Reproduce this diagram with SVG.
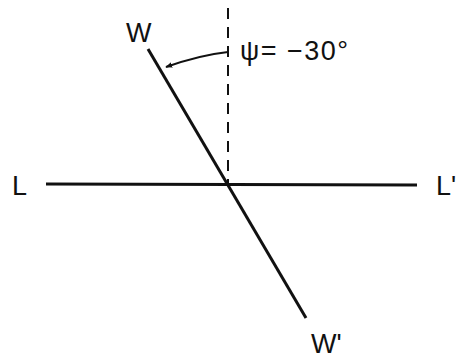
<svg xmlns="http://www.w3.org/2000/svg" width="458" height="360" viewBox="0 0 458 360">
<style>
.ln{stroke:#111;stroke-width:3;fill:none}
.ds{stroke:#111;stroke-width:2;fill:none;stroke-dasharray:11 8}
.lb{font-family:"Liberation Sans",Arial,sans-serif;font-size:27px;fill:#111}
</style>
<defs>
<marker id="ah" viewBox="0 0 10 10" refX="9" refY="5" markerWidth="7" markerHeight="7" orient="auto" markerUnits="userSpaceOnUse">
<path d="M0,1 L10,5 L0,9 Z" fill="#111"/>
</marker>
</defs>
<rect width="458" height="360" fill="#fff"/>
<g id="connectors">
<line class="ds" x1="228" y1="8" x2="228" y2="184"/>
<line class="ln" x1="46" y1="184" x2="417" y2="185"/>
<line class="ln" x1="148" y1="49" x2="306" y2="318"/>
<path d="M228,52 Q200,55 166,67" stroke="#111" stroke-width="2" fill="none" marker-end="url(#ah)"/>
</g>
<g id="W"><text class="lb" x="126" y="42">W</text></g>
<g id="psi"><text class="lb" x="240" y="60" font-size="28" letter-spacing="1.5">ψ= −30°</text></g>
<g id="L"><text class="lb" x="12" y="195">L</text></g>
<g id="Lp"><text class="lb" x="436" y="195">L'</text></g>
<g id="Wp"><text class="lb" x="311" y="353" font-size="26">W'</text></g>
</svg>
